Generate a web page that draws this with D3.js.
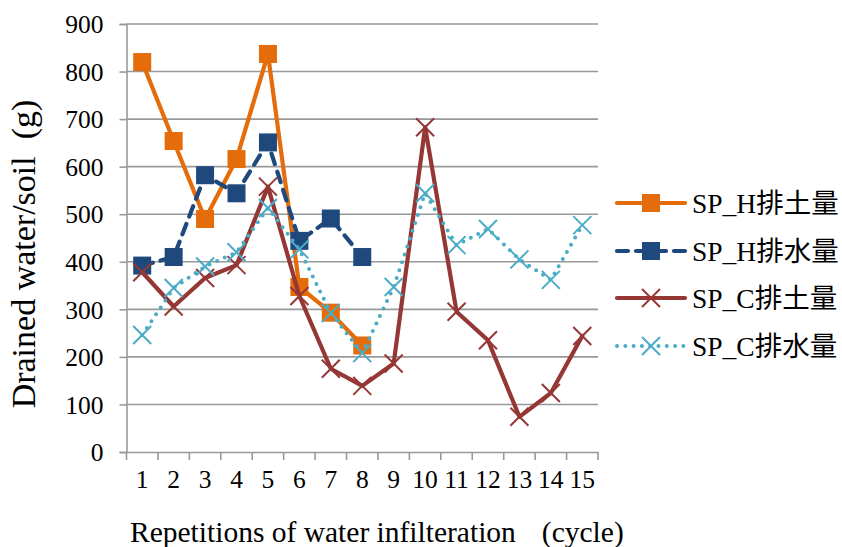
<!DOCTYPE html>
<html>
<head>
<meta charset="utf-8">
<script src="https://cdn.jsdelivr.net/npm/d3@7"></script>
<style>
  body { margin: 0; background: #fff; }
  svg text { font-family: "Liberation Serif", "Times New Roman", "Noto Sans CJK JP", serif; fill: #000; }
</style>
</head>
<body>
<svg id="chart" width="842" height="547"></svg>
<script>
// Cycles of water infiltration
const cycles = d3.range(1, 16);
const yTicks = [0, 100, 200, 300, 400, 500, 600, 700, 800, 900];

// Drained soil / water (g) per cycle
const spHSoil  = [820, 654, 490, 616, 837, 347, 293, 224];
const spHWater = [392, 410, 582, 544, 651, 444, 491, 410];
const spCSoil  = [378, 306, 366, 393, 558, 328, 175, 139, 186, 683, 295, 235, 74, 124, 244];
const spCWater = [246, 345, 390, 420, 513, 426, 292, 208, 347, 544, 435, 469, 405, 362, 477];

const seriesNames = ["SP_H排土量", "SP_H排水量", "SP_C排土量", "SP_C排水量"];

const series = [
  { name: seriesNames[0], values: spHSoil,  color: "#E46C0A", dash: null,   cap: "round", width: 4.2, marker: "square" },
  { name: seriesNames[1], values: spHWater, color: "#1F497D", dash: "11 8", cap: "round", width: 4.2, marker: "square" },
  { name: seriesNames[2], values: spCSoil,  color: "#953735", dash: null,   cap: "round", width: 4.2, marker: "x" },
  { name: seriesNames[3], values: spCWater, color: "#4BACC6", dash: "0 8.3", cap: "round", width: 4, marker: "x" }
];

const svg = d3.select("#chart");
const plotLeft = 126.5, plotRight = 598, plotTop = 24, plotBottom = 452;

const x = d3.scaleBand().domain(cycles).range([plotLeft, plotRight]);
const y = d3.scaleLinear().domain([0, 900]).range([plotBottom, plotTop]);

// Horizontal gridlines
svg.append("g")
  .selectAll("line")
  .data(yTicks.filter(d => d > 0))
  .join("line")
  .attr("x1", plotLeft).attr("x2", plotRight)
  .attr("y1", d => y(d)).attr("y2", d => y(d))
  .attr("stroke", "#999").attr("stroke-width", 1.6);

// Y axis
const yAxis = svg.append("g")
  .attr("transform", `translate(${plotLeft},0)`)
  .call(d3.axisLeft(y).tickValues(yTicks).tickSize(7).tickPadding(16));
yAxis.select(".domain").attr("stroke", "#999").attr("stroke-width", 1.6);
yAxis.selectAll(".tick line").attr("stroke", "#999").attr("stroke-width", 1.6);
yAxis.selectAll(".tick text").attr("font-size", 25.5).attr("dy", "0.34em")
  .style("font-family", '"Liberation Serif", serif');

// X axis
const xAxis = svg.append("g")
  .attr("transform", `translate(0,${plotBottom})`)
  .call(d3.axisBottom(x).tickSize(0).tickPadding(18));
xAxis.select(".domain").attr("stroke", "#999").attr("stroke-width", 1.6);
xAxis.selectAll(".tick text").attr("font-size", 25.5)
  .style("font-family", '"Liberation Serif", serif');
// Category boundary ticks
svg.append("g")
  .selectAll("line")
  .data(d3.range(0, 16))
  .join("line")
  .attr("x1", i => plotLeft + i * x.step()).attr("x2", i => plotLeft + i * x.step())
  .attr("y1", plotBottom).attr("y2", plotBottom + 8)
  .attr("stroke", "#999").attr("stroke-width", 1.6);

const line = d3.line()
  .x((d, i) => x(cycles[i]) + x.bandwidth() / 2)
  .y(d => y(d));

function drawMarker(g, type, color, cx, cy) {
  if (type === "square") {
    g.append("rect")
      .attr("x", cx - 9).attr("y", cy - 9)
      .attr("width", 18).attr("height", 18)
      .attr("fill", color);
  } else {
    const r = 9;
    g.append("path")
      .attr("d", `M${cx - r},${cy - r}L${cx + r},${cy + r}M${cx - r},${cy + r}L${cx + r},${cy - r}`)
      .attr("stroke", color).attr("stroke-width", 2).attr("fill", "none");
  }
}

// Each series: line, then its markers on top
series.forEach(s => {
  const g = svg.append("g");
  g.append("path")
    .datum(s.values)
    .attr("d", line)
    .attr("fill", "none")
    .attr("stroke", s.color)
    .attr("stroke-width", s.width)
    .attr("stroke-linejoin", "round")
    .attr("stroke-linecap", s.cap)
    .attr("stroke-dasharray", s.dash);
  s.values.forEach((v, i) => {
    drawMarker(g, s.marker, s.color, x(cycles[i]) + x.bandwidth() / 2, y(v));
  });
});

// Axis titles
svg.append("text")
  .attr("transform", "translate(35,254) rotate(-90)")
  .attr("text-anchor", "middle")
  .attr("font-size", 34)
  .style("white-space", "pre")
  .text("Drained water/soil  (g)");

const xTitle = svg.append("text")
  .attr("x", 130).attr("y", 542)
  .attr("font-size", 29.5);
xTitle.append("tspan").text("Repetitions of water infilteration");
xTitle.append("tspan").attr("dx", 26).text("(cycle)");

// Legend
const legendY = [203, 251, 298, 346];
series.forEach((s, i) => {
  const g = svg.append("g");
  const ly = legendY[i];
  g.append("line")
    .attr("x1", 617).attr("x2", 685)
    .attr("y1", ly).attr("y2", ly)
    .attr("stroke", s.color)
    .attr("stroke-width", s.width)
    .attr("stroke-linecap", s.cap)
    .attr("stroke-dasharray", s.dash);
  drawMarker(g, s.marker, s.color, 651, ly);
  g.append("text")
    .attr("x", 692).attr("y", ly)
    .attr("dy", "0.36em")
    .attr("font-size", 27.5)
    .text(s.name);
});
</script>
</body>
</html>
